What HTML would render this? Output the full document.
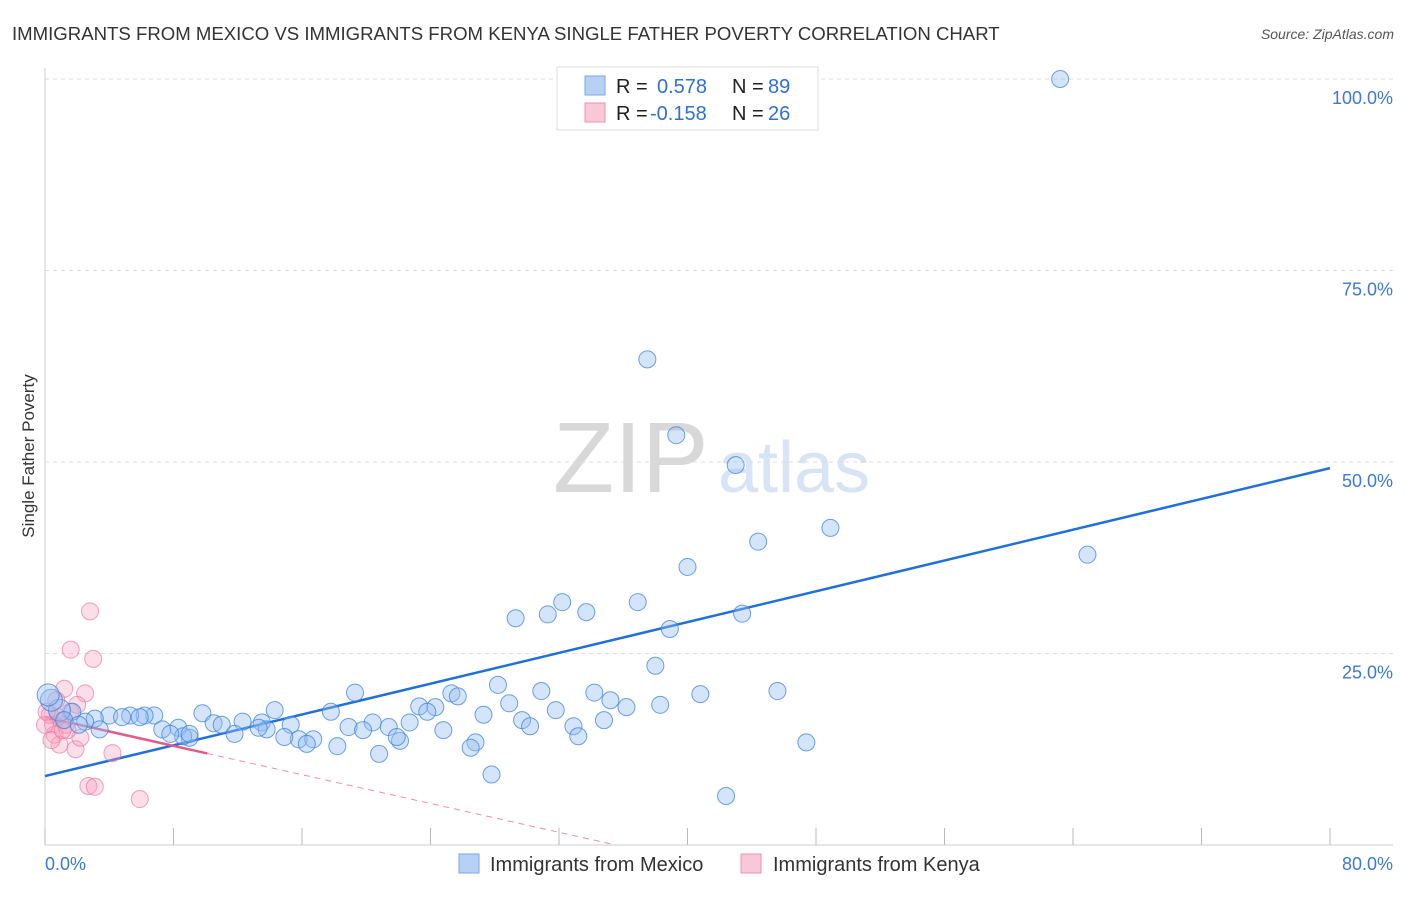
<!DOCTYPE html>
<html><head><meta charset="utf-8"><style>
body{margin:0;background:#fff;font-family:"Liberation Sans",sans-serif;}
svg text{font-family:"Liberation Sans",sans-serif;}
</style></head><body>
<svg id="chart" width="1406" height="892" xmlns="http://www.w3.org/2000/svg">
<text x="12" y="40" font-size="18.6" fill="#333">IMMIGRANTS FROM MEXICO VS IMMIGRANTS FROM KENYA SINGLE FATHER POVERTY CORRELATION CHART</text>
<text x="1394" y="39" font-size="14" fill="#555" text-anchor="end" font-style="italic">Source: ZipAtlas.com</text>
<text transform="translate(34,456) rotate(-90)" font-size="17" fill="#333" text-anchor="middle">Single Father Poverty</text>
<g>
<text x="553" y="492" font-size="100" fill="#d8d8d8" font-family="Liberation Serif, serif">ZIP</text>
<text x="718" y="492" font-size="72" fill="#d6e4f6">atlas</text>
</g>
<g id="grid"></g>
<g id="trend"></g>
<g id="pts"></g>
<g>
<rect x="557" y="67" width="261" height="63" fill="#fff" stroke="#ddd"/>
<rect x="585" y="76" width="20" height="19" fill="#b7d1f5" stroke="#7aa7e8"/>
<rect x="585" y="103" width="20" height="19" fill="#f9c8d7" stroke="#ec92b0"/>
<text x="616" y="93" font-size="20" fill="#222">R =</text><text x="657" y="93" font-size="20" fill="#2f6fd6">0.578</text>
<text x="732" y="93" font-size="20" fill="#222">N =</text><text x="768" y="93" font-size="20" fill="#2f6fd6">89</text>
<text x="616" y="120" font-size="20" fill="#222">R =</text><text x="650" y="120" font-size="20" fill="#2f6fd6">-0.158</text>
<text x="732" y="120" font-size="20" fill="#222">N =</text><text x="768" y="120" font-size="20" fill="#2f6fd6">26</text>
</g>
<g>
<rect x="459" y="854" width="20" height="19" fill="#b7d1f5" stroke="#7aa7e8"/>
<text x="490" y="871" font-size="20" fill="#333">Immigrants from Mexico</text>
<rect x="741" y="854" width="20" height="19" fill="#f9c8d7" stroke="#ec92b0"/>
<text x="773" y="871" font-size="20" fill="#333">Immigrants from Kenya</text>
</g>
<text x="45" y="870" font-size="18" fill="#3b78d8">0.0%</text>
<text x="1393" y="870" font-size="18" fill="#3b78d8" text-anchor="end">80.0%</text>
</svg>
<script>
const yTicks=[25,50,75,100];
const yTickLabels=["25.0%","50.0%","75.0%","100.0%"];
const xTicks=[0,8,16,24,32,40,48,56,64,72,80];
const mexicoX=[63.2,37.5,39.3,43.0,48.9,44.4,64.9,40.0,33.7,36.9,43.4,38.9,32.2,29.3,31.3,38.0,28.2,30.9,34.2,35.2,40.8,38.3,45.6,19.3,25.3,25.7,28.9,23.3,24.3,14.3,17.8,31.8,36.2,27.3,9.8,23.8,29.7,30.2,34.8,32.9,22.7,20.4,18.9,21.4,24.8,15.3,13.5,6.8,12.3,10.5,11.0,8.3,11.8,19.8,15.8,16.7,14.9,13.8,33.2,26.8,26.5,22.1,21.9,18.2,20.8,47.4,27.8,42.4,7.3,6.2,5.3,4.0,3.1,3.4,1.7,2.5,0.9,0.4,0.2,9.0,8.6,7.8,4.8,9.0,16.3,13.3,5.9,1.2,2.1];
const mexicoY=[100,63.4,53.5,49.6,41.4,39.6,37.9,36.3,30.4,31.7,30.2,28.2,31.7,29.6,30.1,23.4,20.9,20.1,19.9,18.9,19.7,18.3,20.1,19.9,19.8,19.4,18.5,18.1,18.0,17.6,17.4,17.6,18.0,17.0,17.2,17.4,16.3,15.5,16.3,15.5,16.0,16.0,15.4,15.4,15.0,15.7,16.0,16.9,16.1,15.9,15.7,15.3,14.5,15.0,13.8,13.8,14.1,15.1,14.2,13.4,12.7,13.6,14.1,12.9,11.9,13.4,9.2,6.4,15.1,16.9,16.9,16.9,16.5,15.1,17.4,16.1,17.6,18.9,19.6,14.0,14.2,14.5,16.7,14.5,13.2,15.3,16.7,16.3,15.7];
const kenyaX=[2.8,1.6,3.0,1.2,2.5,2.0,0.8,0.5,1.1,0.6,0.9,1.9,2.2,1.4,0.3,0.7,4.2,2.7,3.1,5.9,0.4,1.6,1.3,0,0.1,1.1];
const kenyaY=[30.5,25.5,24.3,20.4,19.8,18.3,16.7,15.7,16.3,14.4,13.1,12.5,14.0,15.0,17.0,18.9,12.0,7.7,7.6,6.0,13.7,17.4,15.7,15.7,17.4,15.0];
const mexicoTrend=[9.0,49.2];
const kenyaTrend=[16.7,-0.47];
const X0=45,X1=1330,Y0=845,Y100=79;
const sx=v=>X0+(v/80)*(X1-X0);
const sy=v=>Y0-(v/100)*(Y0-Y100);
const NS="http://www.w3.org/2000/svg";
function mk(t,a,p){const e=document.createElementNS(NS,t);for(const k in a)e.setAttribute(k,a[k]);p.appendChild(e);return e;}
const grid=document.getElementById('grid');
const ax=mk('line',{x1:X0,y1:68,x2:X0,y2:Y0,stroke:'#ccc','stroke-width':1},grid);


const xl=mk('line',{x1:X0,y1:Y0,x2:1393,y2:Y0,stroke:'#ccc','stroke-width':1},grid);


yTicks.forEach((v,i)=>{
 const g=mk('line',{x1:X0,y1:sy(v),x2:1393,y2:sy(v),stroke:'#ddd','stroke-dasharray':'4,4'},grid);
 
 
 const t=mk('text',{x:1393,y:sy(v)+25,'font-size':18,fill:'#3b78d8','text-anchor':'end'},grid);
 t.textContent=yTickLabels[i];
 
 
});
xTicks.forEach(v=>{
 const l=mk('line',{x1:sx(v),y1:828,x2:sx(v),y2:Y0,stroke:'#bbb'},grid);
 
 
});
const pts=document.getElementById('pts');
kenyaX.forEach((v,i)=>{
 const c=mk('circle',{cx:sx(v),cy:sy(kenyaY[i]),r:8.5,fill:'rgba(245,160,190,0.35)',stroke:'rgba(236,120,160,0.7)'},pts);
 
 
});
mexicoX.forEach((v,i)=>{
 const c=mk('circle',{cx:sx(v),cy:sy(mexicoY[i]),r:(i>=76&&i<=78)?11:8.5,fill:'rgba(150,190,240,0.4)',stroke:'rgba(60,130,220,0.75)'},pts);
 
 
});
const tr=document.getElementById('trend');
const bt=mk('line',{x1:sx(0),y1:sy(mexicoTrend[0]),x2:sx(80),y2:sy(mexicoTrend[1]),stroke:'#1f6fdc','stroke-width':2.5},tr);


const kf=x=>kenyaTrend[0]+kenyaTrend[1]*x;
const xe=-kenyaTrend[0]/kenyaTrend[1];
const kd=mk('line',{x1:sx(10.1),y1:sy(kf(10.1)),x2:sx(xe),y2:sy(0),stroke:'#f08cab','stroke-width':1,'stroke-dasharray':'6,5'},tr);


const ks=mk('line',{x1:sx(0),y1:sy(kf(0)),x2:sx(10.1),y2:sy(kf(10.1)),stroke:'#e8598a','stroke-width':2.5},tr);


</script>
</body></html>
